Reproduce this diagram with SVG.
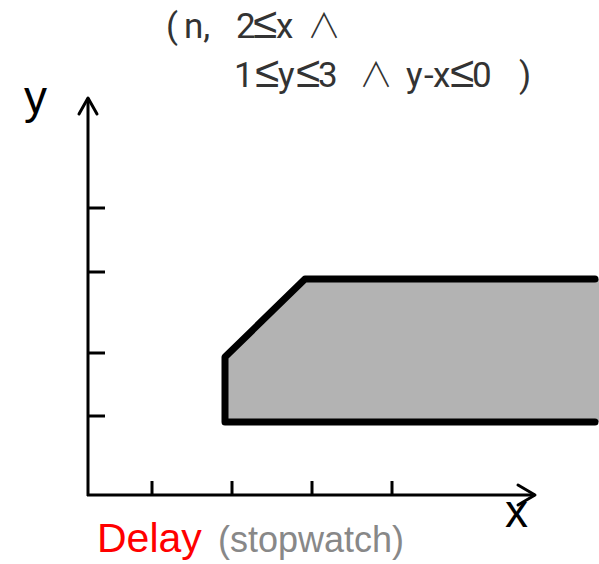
<svg xmlns="http://www.w3.org/2000/svg" width="599" height="564" viewBox="0 0 599 564">
<style>
.axis{stroke:#000;stroke-width:3;fill:none}
.tick{stroke:#000;stroke-width:3;fill:none}
.arrow{stroke:#000;stroke-width:3;fill:none;stroke-linecap:round;stroke-linejoin:round}
.lbl{font-family:"Liberation Sans",Arial,sans-serif;fill:#000}
.formula{font-family:Roboto,"Liberation Sans",sans-serif;font-size:35px;fill:#333}
.le{font-family:"DejaVu Sans",sans-serif;font-size:44px;font-weight:200}
.and{font-family:"Noto Sans CJK JP","DejaVu Sans",sans-serif;font-size:34px;font-weight:300}
</style>
<rect width="599" height="564" fill="#fff"/>
<g id="region">
<polygon points="225,422 225,357 305,279 599,279 599,422" fill="#b3b3b3"/>
<polyline points="595,279 305,279 225,357 225,422 595,422" fill="none" stroke="#000" stroke-width="7" stroke-linejoin="round" stroke-linecap="round"/>
</g>
<g id="connectors">
<g id="y-axis">
<line class="axis" x1="88" y1="98" x2="88" y2="496"/>
<polyline class="arrow" points="79,114 88,98 97,114"/>
<line class="tick" x1="88" y1="208" x2="105" y2="208"/>
<line class="tick" x1="88" y1="272" x2="105" y2="272"/>
<line class="tick" x1="88" y1="353" x2="105" y2="353"/>
<line class="tick" x1="88" y1="416" x2="105" y2="416"/>
</g>
<g id="x-axis">
<line class="axis" x1="87" y1="495" x2="535" y2="495"/>
<polyline class="arrow" points="518,485 535,495 518,505"/>
<line class="tick" x1="152" y1="481" x2="152" y2="495"/>
<line class="tick" x1="232" y1="481" x2="232" y2="495"/>
<line class="tick" x1="312" y1="481" x2="312" y2="495"/>
<line class="tick" x1="392" y1="481" x2="392" y2="495"/>
</g>
</g>
<g id="labels">
<text class="lbl" x="24" y="113" font-size="46">y</text>
<text class="lbl" x="505" y="527" font-size="46">x</text>
<text x="97" y="552" font-family="Liberation Sans,Arial,sans-serif" font-size="41" fill="#ff0000">Delay</text>
<text x="218" y="552" font-family="Liberation Sans,Arial,sans-serif" font-size="36" fill="#888">(stopwatch)</text>
</g>
<g id="formula">
<text class="formula" y="38"><tspan x="166">(</tspan><tspan x="184">n,</tspan><tspan x="236">2</tspan><tspan class="le" x="253">≤</tspan><tspan x="276">x</tspan><tspan class="and" x="307">∧</tspan></text>
<text class="formula" y="87"><tspan x="234">1</tspan><tspan class="le" x="255">≤</tspan><tspan x="278">y</tspan><tspan class="le" x="296">≤</tspan><tspan x="318">3</tspan><tspan class="and" x="359">∧</tspan><tspan x="406">y</tspan><tspan x="424">-</tspan><tspan x="433">x</tspan><tspan class="le" x="450">≤</tspan><tspan x="472">0</tspan><tspan x="519">)</tspan></text>
</g>
</svg>
